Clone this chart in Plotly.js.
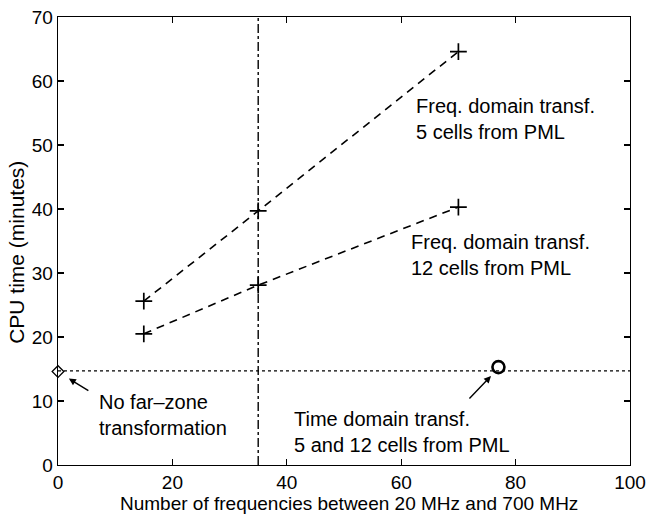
<!DOCTYPE html>
<html>
<head>
<meta charset="utf-8">
<script src="https://cdn.plot.ly/plotly-3.0.1.min.js"></script>
<style>html,body{margin:0;padding:0;background:#fff;}#chart{width:650px;height:515px;}</style>
</head>
<body>
<div id="chart"></div>
<script>
// Data
const freqCounts = [15, 35, 70];
const cpu5cells = [25.6, 39.7, 64.6];
const cpu12cells = [20.5, 28.1, 40.3];
const noFarZoneX = [0];
const noFarZoneY = [14.6];
const timeDomainX = [77];
const timeDomainY = [15.3];
const refLineY = 14.7;
const refLineX = [0, 100];
const markerLineX = 35;
const markerLineY = [0, 70];
const xTicks = [0, 20, 40, 60, 80, 100];
const yTicks = [0, 10, 20, 30, 40, 50, 60, 70];

const FONT = 'Liberation Sans, Arial, Helvetica, sans-serif';

const traces = [
  {x: refLineX, y: refLineX.map(() => refLineY), mode: 'lines',
   line: {color: '#000', width: 1.3, dash: 'dot'}, hoverinfo: 'skip'},
  {x: [markerLineX, markerLineX], y: markerLineY, mode: 'lines',
   line: {color: '#000', width: 1.4, dash: 'dashdot'}, hoverinfo: 'skip'},
  {x: freqCounts, y: cpu5cells, mode: 'lines+markers',
   line: {color: '#000', width: 1.6, dash: '8px,6px'},
   marker: {symbol: 'cross-thin', size: 12, line: {color: '#000', width: 1.7}}},
  {x: freqCounts, y: cpu12cells, mode: 'lines+markers',
   line: {color: '#000', width: 1.6, dash: '8px,6px'},
   marker: {symbol: 'cross-thin', size: 12, line: {color: '#000', width: 1.7}}},
  {x: noFarZoneX, y: noFarZoneY, mode: 'markers', cliponaxis: false,
   marker: {symbol: 'diamond-open', size: 9, color: '#000', line: {width: 1.3}}},
  {x: timeDomainX, y: timeDomainY, mode: 'markers',
   marker: {symbol: 'circle-open', size: 12, color: '#000', line: {width: 2.6}}}
];

const axisCommon = {
  showgrid: false, zeroline: false, showline: true, mirror: 'ticks',
  linecolor: '#000', linewidth: 1.3, ticks: 'inside', ticklen: 6,
  tickcolor: '#000', tickwidth: 1.2,
  tickfont: {family: FONT, size: 19, color: '#000'}
};

const annFont = {family: FONT, size: 20, color: '#000'};

const layout = {
  width: 650, height: 515,
  margin: {l: 58, r: 20, t: 17, b: 50},
  paper_bgcolor: '#fff', plot_bgcolor: '#fff',
  showlegend: false,
  xaxis: Object.assign({}, axisCommon, {
    range: [0, 100], tickvals: xTicks, ticktext: xTicks.map(String)
  }),
  yaxis: Object.assign({}, axisCommon, {
    range: [0, 70], tickvals: yTicks, ticktext: yTicks.map(String)
  }),
  annotations: [
    // axis titles
    {x: 0.508, y: 0, xref: 'paper', yref: 'paper', xanchor: 'center', yanchor: 'bottom',
     yshift: -51, showarrow: false, font: {family: FONT, size: 19, color: '#000'},
     text: 'Number of frequencies between 20 MHz and 700 MHz'},
    {x: 0, y: 0.4735, xref: 'paper', yref: 'paper', xanchor: 'center', yanchor: 'middle',
     xshift: -41, textangle: -90, showarrow: false,
     font: {family: FONT, size: 21, color: '#000'}, text: 'CPU time (minutes)'},
    // labels
    {x: 62.2, y: 54.0, xref: 'x', yref: 'y', xanchor: 'left', yanchor: 'middle',
     align: 'left', showarrow: false, font: annFont,
     text: 'Freq. domain transf.<br>5 cells from PML'},
    {x: 61.4, y: 32.8, xref: 'x', yref: 'y', xanchor: 'left', yanchor: 'middle',
     align: 'left', showarrow: false, font: annFont,
     text: 'Freq. domain transf.<br>12 cells from PML'},
    {x: 6.8, y: 7.8, xref: 'x', yref: 'y', xanchor: 'left', yanchor: 'middle',
     align: 'left', showarrow: false, font: annFont,
     text: 'No far–zone<br>transformation'},
    {x: 40.9, y: 5.1, xref: 'x', yref: 'y', xanchor: 'left', yanchor: 'middle',
     align: 'left', showarrow: false, font: annFont,
     text: 'Time domain transf.<br>5 and 12 cells from PML'},
    // arrows
    {x: 1.9, y: 13.5, xref: 'x', yref: 'y', text: '', showarrow: true,
     arrowhead: 2, arrowsize: 1, arrowwidth: 1.4, arrowcolor: '#000',
     ax: 21, ay: 13, standoff: 0},
    {x: 75.7, y: 13.9, xref: 'x', yref: 'y', text: '', showarrow: true,
     arrowhead: 2, arrowsize: 1, arrowwidth: 1.4, arrowcolor: '#000',
     ax: -23, ay: 24, standoff: 0}
  ]
};

Plotly.newPlot('chart', traces, layout, {displayModeBar: false, staticPlot: true});
</script>
</body>
</html>
